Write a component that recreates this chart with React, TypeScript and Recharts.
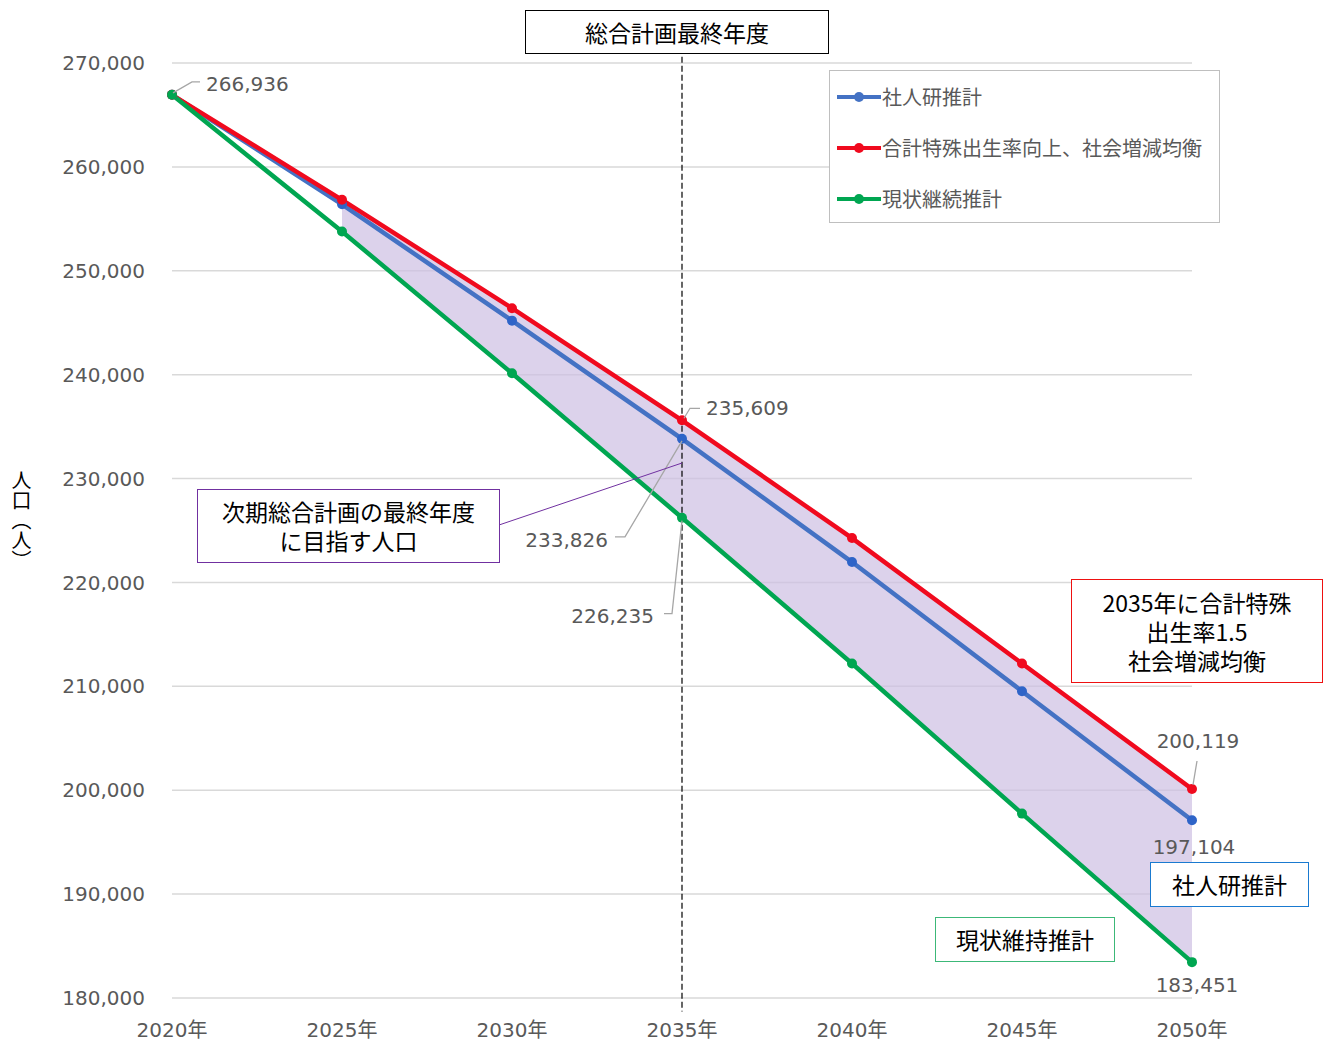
import {
  ComposedChart,
  Line,
  Area,
  XAxis,
  YAxis,
  CartesianGrid,
  ReferenceLine,
  LabelList,
} from 'recharts';

// 年次
const years = ['2020年', '2025年', '2030年', '2035年', '2040年', '2045年', '2050年'];

// 社人研推計
const ipssValues = [266936, 256400, 245200, 233826, 221960, 209530, 197104];
// 合計特殊出生率向上、社会増減均衡
const targetValues = [266936, 256830, 246400, 235609, 224270, 212200, 200119];
// 現状継続推計
const currentValues = [266936, 253780, 240130, 226235, 212200, 197750, 183451];

const yTicks = [180000, 190000, 200000, 210000, 220000, 230000, 240000, 250000, 260000, 270000];

const seriesNames = ['社人研推計', '合計特殊出生率向上、社会増減均衡', '現状継続推計'];
const seriesColors = ['#4472c4', '#f00a1e', '#00a651'];

const chartData = years.map((year, i) => ({
  year,
  ipss: ipssValues[i],
  target: targetValues[i],
  current: currentValues[i],
  band: i === 0 ? null : [currentValues[i], targetValues[i]],
}));

const LATIN = "'DejaVu Sans', 'Noto Sans CJK JP', sans-serif";
const CJK = "'Noto Sans CJK JP', 'DejaVu Sans', sans-serif";
const GREY = '#595959';

type Callout = {
  dx: number;
  dy: number;
  anchor: 'start' | 'middle' | 'end';
  leader?: number[][];
};

// data label placement relative to the point
const ipssCallouts: Record<number, Callout> = {
  3: { dx: -74, dy: 101, anchor: 'end', leader: [[0, 2], [-57, 98], [-67, 98]] },
  6: { dx: 2, dy: 27, anchor: 'middle' },
};
const targetCallouts: Record<number, Callout> = {
  3: { dx: 24, dy: -12, anchor: 'start', leader: [[2, -2], [8, -12], [18, -12]] },
  6: { dx: 6, dy: -48, anchor: 'middle', leader: [[1, -4], [5, -28]] },
};
const currentCallouts: Record<number, Callout> = {
  0: { dx: 34, dy: -11, anchor: 'start', leader: [[1, -2], [20, -13], [28, -13]] },
  3: { dx: -28, dy: 98, anchor: 'end', leader: [[0, 3], [-10, 96], [-18, 96]] },
  6: { dx: 5, dy: 23, anchor: 'middle' },
};

const makeLabel = (callouts: Record<number, Callout>) => (props: any) => {
  const { x, y, value, index } = props;
  const c = callouts[index];
  if (!c || x == null || y == null) return null;
  return (
    <g>
      {c.leader && (
        <polyline
          points={c.leader.map(([a, b]) => `${x + a},${y + b}`).join(' ')}
          fill="none"
          stroke="#a6a6a6"
          strokeWidth={1.3}
        />
      )}
      <text
        x={x + c.dx}
        y={y + c.dy}
        textAnchor={c.anchor}
        dominantBaseline="central"
        fill={GREY}
        fontSize={20}
        fontFamily={LATIN}
      >
        {Number(value).toLocaleString('en-US')}
      </text>
    </g>
  );
};

const boxText = (color: string) => ({
  position: 'absolute' as const,
  border: `1.5px solid ${color}`,
  background: '#fff',
  boxSizing: 'border-box' as const,
  display: 'flex',
  alignItems: 'center',
  justifyContent: 'center',
  textAlign: 'center' as const,
  fontFamily: CJK,
  fontSize: 23,
  lineHeight: '29px',
  color: '#000',
});

export default function App() {
  return (
    <div style={{ position: 'absolute', left: 0, top: 0, width: 1329, height: 1041, background: '#fff' }}>
      <ComposedChart
        width={1329}
        height={1041}
        data={chartData}
        margin={{ top: 63, right: 137, bottom: 0, left: 0 }}
      >
        <CartesianGrid vertical={false} stroke="#d9d9d9" strokeWidth={1.5} />
        <XAxis
          dataKey="year"
          axisLine={false}
          tickLine={false}
          tickSize={0}
          tickMargin={25}
          height={43}
          interval={0}
          tick={{ fill: GREY, fontSize: 20, fontFamily: LATIN }}
        />
        <YAxis
          domain={[180000, 270000]}
          ticks={yTicks}
          width={172}
          axisLine={false}
          tickLine={false}
          tickSize={0}
          tickMargin={27}
          tickFormatter={(v: number) => v.toLocaleString('en-US')}
          tick={{ fill: GREY, fontSize: 20, fontFamily: LATIN }}
        />
        <Area
          dataKey="band"
          stroke="none"
          fill="#cdbfe2"
          fillOpacity={0.7}
          legendType="none"
          isAnimationActive={false}
          activeDot={false}
        />
        <ReferenceLine
          segment={[
            { x: '2035年', y: 270600 },
            { x: '2035年', y: 178700 },
          ]}
          stroke="#000"
          strokeDasharray="6 3"
          strokeWidth={1.2}
          ifOverflow="visible"
        />
        <Line
          dataKey="ipss"
          name={seriesNames[0]}
          stroke={seriesColors[0]}
          strokeWidth={4.5}
          dot={{ r: 5, fill: '#2e64c8', stroke: 'none' }}
          isAnimationActive={false}
        >
          <LabelList dataKey="ipss" content={makeLabel(ipssCallouts)} />
        </Line>
        <Line
          dataKey="target"
          name={seriesNames[1]}
          stroke={seriesColors[1]}
          strokeWidth={4.5}
          dot={{ r: 5, fill: seriesColors[1], stroke: 'none' }}
          isAnimationActive={false}
        >
          <LabelList dataKey="target" content={makeLabel(targetCallouts)} />
        </Line>
        <Line
          dataKey="current"
          name={seriesNames[2]}
          stroke={seriesColors[2]}
          strokeWidth={4.5}
          dot={{ r: 5, fill: seriesColors[2], stroke: 'none' }}
          isAnimationActive={false}
        >
          <LabelList dataKey="current" content={makeLabel(currentCallouts)} />
        </Line>
      </ComposedChart>

      {/* legend */}
      <div
        style={{
          position: 'absolute',
          left: 829,
          top: 70,
          width: 391,
          height: 153,
          border: '1.5px solid #bfbfbf',
          background: '#fff',
          boxSizing: 'border-box',
        }}
      >
        {seriesNames.map((name, i) => (
          <div key={name} style={{ display: 'flex', alignItems: 'center', height: 51 }}>
            <svg width={52} height={20} style={{ marginLeft: 5 }}>
              <line x1={2} y1={10} x2={46} y2={10} stroke={seriesColors[i]} strokeWidth={4} />
              <circle cx={24} cy={10} r={5} fill={seriesColors[i]} />
            </svg>
            <span style={{ fontFamily: CJK, fontSize: 20, color: GREY, marginLeft: -5 }}>{name}</span>
          </div>
        ))}
      </div>

      {/* annotation leader to the purple box */}
      <svg
        width={1329}
        height={1041}
        style={{ position: 'absolute', left: 0, top: 0, pointerEvents: 'none' }}
      >
        <line x1={499} y1={525} x2={682} y2={463} stroke="#7030a0" strokeWidth={1} />
      </svg>

      <div
        style={{
          position: 'absolute',
          left: 11,
          top: 470,
          writingMode: 'vertical-rl',
          fontFamily: CJK,
          fontSize: 20,
          lineHeight: '20px',
          color: '#000',
        }}
      >
        人口（人）
      </div>

      <div style={{ ...boxText('#000'), left: 525, top: 10, width: 304, height: 44 }}>
        総合計画最終年度
      </div>
      <div style={{ ...boxText('#7030a0'), left: 197, top: 489, width: 303, height: 74 }}>
        次期総合計画の最終年度
        <br />
        に目指す人口
      </div>
      <div style={{ ...boxText('#ee1111'), left: 1071, top: 579, width: 252, height: 104 }}>
        2035年に合計特殊
        <br />
        出生率1.5
        <br />
        社会増減均衡
      </div>
      <div style={{ ...boxText('#1a7ad0'), left: 1150, top: 862, width: 159, height: 45 }}>
        社人研推計
      </div>
      <div style={{ ...boxText('#3cb878'), left: 935, top: 917, width: 180, height: 45 }}>
        現状維持推計
      </div>
    </div>
  );
}
